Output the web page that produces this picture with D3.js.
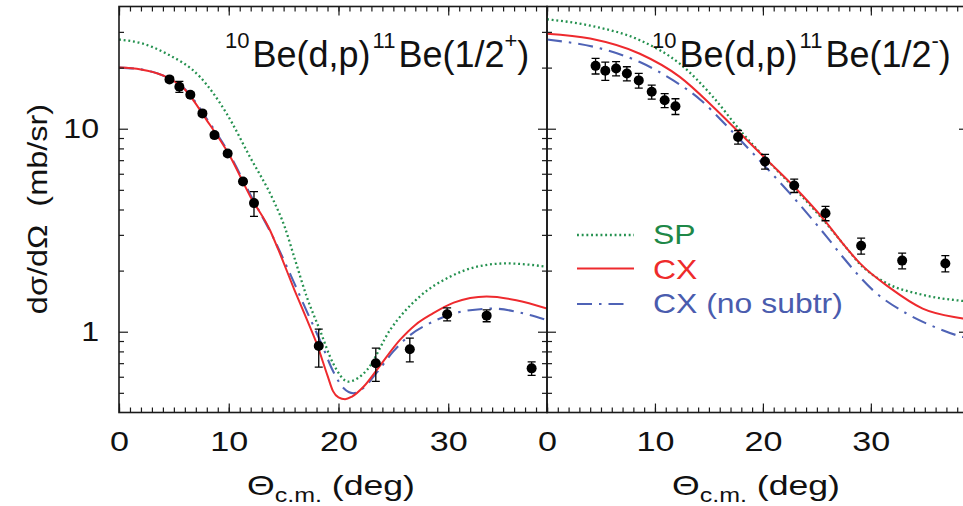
<!DOCTYPE html>
<html><head><meta charset="utf-8">
<script src="https://cdn.jsdelivr.net/npm/d3@7"></script>
<style>body{margin:0;background:#fff}svg{display:block;font-family:"Liberation Sans",Arial,Helvetica,sans-serif}</style>
</head><body><svg id="c" width="963" height="506"></svg>
<script>
// ---------- data ----------
const xTickLabels = [0, 10, 20, 30];
const yTickLabels = [1, 10];
const yMinorTicks = [0.5, 0.6, 0.7, 0.8, 0.9, 2, 3, 4, 5, 6, 7, 8, 9, 20, 30];

// left panel: 10Be(d,p)11Be(1/2+)
const leftSPAngle = [0, 2, 4.35, 7.38, 9.8, 11.94, 14.06, 15.13, 16, 17.1, 18.3, 19.5, 20.9, 22.6, 24.7, 27.4, 30.2, 32.6, 35.3, 39];
const leftSPValue = [27.5, 26.4, 23.4, 18.0, 11.9, 7.25, 4.45, 3.25, 2.3, 1.49, 1.02, 0.70, 0.568, 0.649, 1.02, 1.49, 1.87, 2.09, 2.17, 2.09];
const leftCXAngle = [0, 2, 4, 6, 8, 10, 12, 13.76, 14.5, 16, 17, 18, 19, 19.5, 20, 20.6, 21.2, 22.3, 23.5, 25.6, 27, 28.6, 30.5, 33.5, 36.2, 39];
const leftCXValue = [20.0, 19.6, 18.3, 15.6, 11.0, 7.5, 4.6, 3.16, 2.55, 1.6, 1.19, 0.878, 0.608, 0.51, 0.475, 0.465, 0.478, 0.537, 0.649, 0.911, 1.08, 1.23, 1.39, 1.49, 1.43, 1.30];
const leftNSAngle = [0, 2, 4, 6, 8, 10, 12, 14, 16, 17, 18.5, 19.5, 20.5, 21.35, 22.3, 23.5, 25, 26.5, 28.6, 29.9, 31.7, 34.1, 36.6, 39];
const leftNSValue = [20.0, 19.6, 18.3, 15.7, 11.2, 7.6, 4.7, 2.95, 1.72, 1.3, 0.86, 0.64, 0.525, 0.498, 0.53, 0.63, 0.80, 0.96, 1.12, 1.2, 1.27, 1.30, 1.24, 1.14];
const leftDataAngle = [4.6, 5.5, 6.5, 7.6, 8.7, 9.9, 11.3, 12.3, 18.2, 23.4, 26.5, 29.9, 33.5, 37.6];
const leftDataValue = [17.5, 16.1, 14.7, 11.9, 9.3, 7.55, 5.5, 4.3, 0.85, 0.70, 0.82, 1.22, 1.20, 0.66];
const leftDataError = [0.5, 1.0, 0.4, 0.3, 0.25, 0.2, 0.15, 0.6, 0.18, 0.13, 0.11, 0.09, 0.08, 0.05];

// right panel: 10Be(d,p)11Be(1/2-)
const rightSPAngle = [0, 4, 8.6, 12.3, 15.4, 17.9, 20.4, 22.9, 25.6, 27.7, 29, 31.5, 34.8, 38.4, 39];
const rightSPValue = [34.6, 32.2, 27.3, 20.9, 14.3, 9.8, 7.0, 5.1, 3.55, 2.6, 2.15, 1.73, 1.52, 1.42, 1.41];
const rightCXAngle = [0, 4, 8.6, 12.3, 15.4, 17.9, 20.4, 22.9, 25.6, 27.7, 29, 31.8, 34.8, 38.4, 39];
const rightCXValue = [29.4, 27.8, 23.4, 18.0, 12.8, 9.47, 7.0, 5.18, 3.6, 2.6, 2.17, 1.64, 1.30, 1.165, 1.15];
const rightNSAngle = [0, 5.5, 8.6, 11.7, 14.2, 16.6, 19.4, 22.5, 25.9, 27.5, 30.2, 33.3, 36, 38.4, 39];
const rightNSValue = [27.5, 24.4, 21.3, 17.3, 13.9, 10.4, 7.25, 4.8, 2.94, 2.3, 1.6, 1.23, 1.05, 0.946, 0.93];
const rightDataAngle = [4.5, 5.4, 6.4, 7.4, 8.5, 9.7, 10.9, 11.9, 17.7, 20.2, 22.9, 25.8, 29.1, 32.9, 36.9];
const rightDataValue = [20.4, 19.3, 19.8, 18.7, 17.3, 15.2, 13.8, 12.9, 9.1, 6.9, 5.25, 3.83, 2.65, 2.24, 2.17];
const rightDataError = [1.8, 2.0, 1.6, 1.5, 1.45, 1.2, 1.1, 1.15, 0.7, 0.57, 0.4, 0.31, 0.24, 0.2, 0.2];

const legendLabels = ["SP", "CX", "CX (no subtr)"];

// ---------- drawing ----------
const svg = d3.select('#c');
const C = {sp: '#24914f', cx: '#ee2a2e', ns: '#4f63b6', spT: '#1e8848', cxT: '#ee2b2b', nsT: '#4a5cae', ink: '#1a1a1a'};
const y = d3.scaleLog().domain([0.4, 40]).range([412.5, 6.5]);
const xL = d3.scaleLinear().domain([0, 39]).range([119, 547]);
const xR = d3.scaleLinear().domain([0, 39]).range([547, 968]);
const defs = svg.append('defs');
const SX = 1.22;   // horizontal stretch of the axis lettering

function zip(a, b) { return a.map((d, i) => [d, b[i]]); }

function panel(x, id, curves, dAng, dVal, dErr, showY) {
  const [x0, x1] = x.range();
  const [yb, yt] = y.range();
  defs.append('clipPath').attr('id', id).append('rect')
    .attr('x', x0).attr('y', yt).attr('width', x1 - x0).attr('height', yb - yt);
  const g = svg.append('g');
  const plot = g.append('g').attr('clip-path', `url(#${id})`);
  const line = d3.line().x(d => x(d[0])).y(d => y(d[1])).curve(d3.curveMonotoneX);
  curves.forEach(c => {
    plot.append('path').datum(zip(c.a, c.v)).attr('d', line)
      .attr('fill', 'none').attr('stroke', c.color).attr('stroke-width', c.w)
      .attr('stroke-dasharray', c.dash || null);
  });
  const pts = plot.append('g');
  dAng.forEach((a, i) => {
    const cxp = x(a), v = dVal[i], e = dErr[i];
    const y1 = y(v + e), y2 = y(v - e);
    pts.append('line').attr('x1', cxp).attr('x2', cxp).attr('y1', y1).attr('y2', y2).attr('stroke', '#000').attr('stroke-width', 1.3);
    [y1, y2].forEach(yy => pts.append('line').attr('x1', cxp - 4).attr('x2', cxp + 4).attr('y1', yy).attr('y2', yy).attr('stroke', '#000').attr('stroke-width', 1.3));
    pts.append('circle').attr('cx', cxp).attr('cy', y(v)).attr('r', 5).attr('fill', '#000');
  });
  const minorX = d3.range(0, 40);
  const style = s => { s.select('.domain').remove(); s.selectAll('.tick line').attr('stroke', C.ink).attr('stroke-width', 1.2); s.attr('font-family', null).attr('font-size', 28); s.selectAll('text').attr('fill', '#111'); };
  g.append('g').attr('transform', `translate(0,${yb})`).call(d3.axisBottom(x).tickValues(minorX).tickSize(-5).tickFormat('')).call(style);
  g.append('g').attr('transform', `translate(0,${yb})`).call(d3.axisBottom(x).tickValues(xTickLabels).tickSize(-9).tickPadding(19).tickFormat(d3.format('d')))
    .call(style).call(s => s.selectAll('text').attr('transform', `scale(${SX},1)`));
  g.append('g').attr('transform', `translate(0,${yt})`).call(d3.axisTop(x).tickValues(minorX).tickSize(-5).tickFormat('')).call(style);
  g.append('g').attr('transform', `translate(0,${yt})`).call(d3.axisTop(x).tickValues(xTickLabels).tickSize(-9).tickFormat('')).call(style);
  g.append('g').attr('transform', `translate(${x0},0)`).call(d3.axisLeft(y).tickValues(yMinorTicks).tickSize(-5).tickFormat('')).call(style);
  g.append('g').attr('transform', `translate(${x0},0)`).call(d3.axisLeft(y).tickValues(yTickLabels).tickSize(-9).tickPadding(20).tickFormat(showY ? d3.format('d') : ''))
    .call(style).call(s => s.attr('font-size', 27).selectAll('text').attr('x', -20 / 1.19).attr('transform', 'scale(1.19,1)'));
  g.append('g').attr('transform', `translate(${x1},0)`).call(d3.axisRight(y).tickValues(yMinorTicks).tickSize(-5).tickFormat('')).call(style);
  g.append('g').attr('transform', `translate(${x1},0)`).call(d3.axisRight(y).tickValues(yTickLabels).tickSize(-9).tickFormat('')).call(style);
  g.append('rect').attr('x', x0).attr('y', yt).attr('width', x1 - x0).attr('height', yb - yt)
    .attr('fill', 'none').attr('stroke', C.ink).attr('stroke-width', 1.6);
  return g;
}

const dot = '1.9,2.8', dashdot = '15,7,2.5,7';
panel(xL, 'clipL', [
  {a: leftSPAngle, v: leftSPValue, color: C.sp, w: 2.3, dash: dot},
  {a: leftNSAngle, v: leftNSValue, color: C.ns, w: 2.1, dash: dashdot},
  {a: leftCXAngle, v: leftCXValue, color: C.cx, w: 2}
], leftDataAngle, leftDataValue, leftDataError, true);
panel(xR, 'clipR', [
  {a: rightSPAngle, v: rightSPValue, color: C.sp, w: 2.3, dash: dot},
  {a: rightNSAngle, v: rightNSValue, color: C.ns, w: 2.1, dash: dashdot},
  {a: rightCXAngle, v: rightCXValue, color: C.cx, w: 2}
], rightDataAngle, rightDataValue, rightDataError, false);

// panel titles
function title(x0, last) {
  const t = svg.append('text').attr('x', x0).attr('y', 66.7).attr('font-size', 36).attr('fill', '#111');
  const sup = 22, sh = 18.7;
  t.append('tspan').attr('font-size', sup).attr('dy', -sh).text('10');
  t.append('tspan').attr('dy', sh).attr('dx', 3).text('Be(d,p)');
  t.append('tspan').attr('font-size', sup).attr('dy', -sh).attr('dx', 2).text('11');
  t.append('tspan').attr('dy', sh).attr('dx', 3).text('Be(1/2');
  t.append('tspan').attr('font-size', sup).attr('dy', -sh).text(last);
  t.append('tspan').attr('dy', sh).text(')');
}
title(225, '+');
title(652, '-');

// axis titles
function xTitle(cx) {
  const t = svg.append('text').attr('transform', `translate(${cx},495) scale(1.25,1)`).attr('font-size', 28.5).attr('text-anchor', 'middle').attr('fill', '#111');
  t.append('tspan').text('Θ');
  t.append('tspan').attr('font-size', 20).attr('dy', 7).text('c.m.');
  t.append('tspan').attr('dy', -7).text('\u00A0(deg)');
}
xTitle(331);
xTitle(756);
svg.append('text').attr('transform', 'translate(47,209) rotate(-90) scale(1.16,1)').attr('text-anchor', 'middle')
  .attr('font-size', 28).attr('fill', '#111').text('dσ/dΩ\u00A0\u00A0(mb/sr)');

// legend
const leg = svg.append('g');
const legendStyle = [
  {color: C.sp, text: C.spT, w: 2.3, dash: dot, ly: 235, ty: 244},
  {color: C.cx, text: C.cxT, w: 2.2, dash: null, ly: 268.5, ty: 279},
  {color: C.ns, text: C.nsT, w: 2.1, dash: dashdot, ly: 304, ty: 313}
];
legendLabels.forEach((lab, i) => {
  const s = legendStyle[i];
  leg.append('line').attr('x1', 577).attr('x2', i === 2 ? 626 : 634).attr('y1', s.ly).attr('y2', s.ly)
    .attr('stroke', s.color).attr('stroke-width', s.w).attr('stroke-dasharray', s.dash);
  leg.append('text').attr('transform', `translate(653,${s.ty}) scale(1.12,1)`).attr('font-size', 28.5).attr('fill', s.text).text(lab);
});
</script></body></html>
